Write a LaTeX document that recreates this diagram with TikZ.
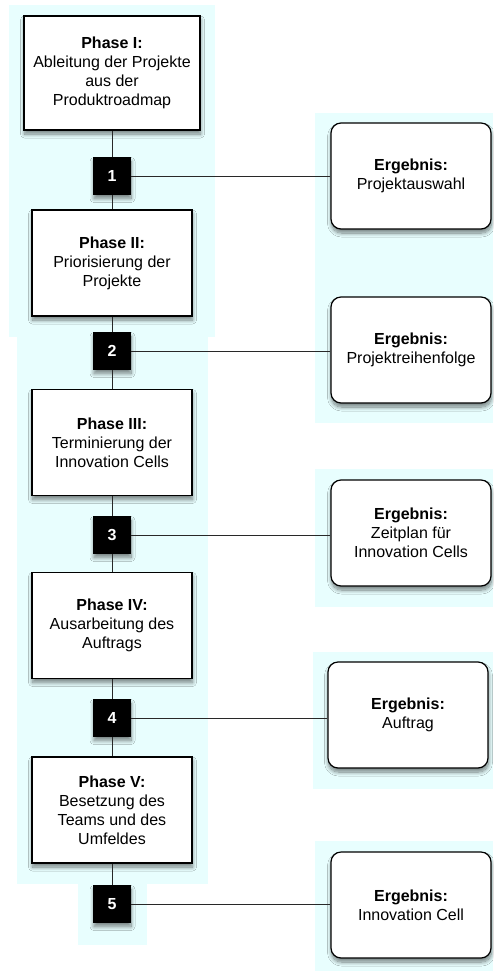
\documentclass[tikz,border=0pt]{standalone}
\usepackage{fontspec}
\setmainfont{Liberation Sans}
\usetikzlibrary{shadows.blur}

\definecolor{bgcyan}{RGB}{232,254,254}
\definecolor{linegray}{RGB}{40,40,40}

\tikzset{
  x=1pt, y=-1pt,
  softshadow/.style={blur shadow={shadow xshift=0.5pt, shadow yshift=-4pt,
      shadow blur radius=4pt, shadow blur steps=10, shadow opacity=50}},
  band/.style={fill=bgcyan, draw=none},
  phasebox/.style={draw=black, line width=1.2pt, fill=white, softshadow,
      minimum width=160pt, minimum height=106pt, inner sep=0pt,
      align=center, font=\fontsize{16}{19}\selectfont},
  numbox/.style={draw=black, fill=black, text=white, softshadow,
      minimum size=37pt, inner sep=0pt,
      font=\fontsize{16}{19}\selectfont\bfseries},
  resultbox/.style={draw=black, line width=1.2pt, fill=white, softshadow,
      rounded corners=10pt, minimum width=160pt, minimum height=106pt,
      inner sep=0pt, align=center, font=\fontsize{16}{19}\selectfont},
  link/.style={draw=linegray, line width=1pt},
}

\begin{document}
\begin{tikzpicture}
  \useasboundingbox (0,0) rectangle (493,971);

  % light background bands
  \path[band] (9,5) rectangle (215,337);
  \path[band] (17,337) rectangle (208,884);
  \path[band] (78,884) rectangle (147,945);
  \path[band] (315,113) rectangle (493,423);
  \path[band] (315,469) rectangle (493,607);
  \path[band] (313,652) rectangle (493,789);
  \path[band] (315,841) rectangle (493,971);

  % phases
  \node[phasebox, minimum width=176pt, minimum height=114pt] (p1) at (112,73)
    {\textbf{Phase I:}\\Ableitung der Projekte\\aus der\\Produktroadmap};
  \node[phasebox] (p2) at (112,263)
    {\textbf{Phase II:}\\Priorisierung der\\Projekte};
  \node[phasebox] (p3) at (112,442.5)
    {\textbf{Phase III:}\\Terminierung der\\Innovation Cells};
  \node[phasebox] (p4) at (112,625.5)
    {\textbf{Phase IV:}\\Ausarbeitung des\\Auftrags};
  \node[phasebox] (p5) at (112,810)
    {\textbf{Phase V:}\\Besetzung des\\Teams und des\\Umfeldes};

  % milestones
  \node[numbox] (n1) at (112,176) {1};
  \node[numbox] (n2) at (112,351) {2};
  \node[numbox] (n3) at (112,535) {3};
  \node[numbox] (n4) at (112,718) {4};
  \node[numbox] (n5) at (112,904) {5};

  % results
  \node[resultbox] (e1) at (411,176) {\textbf{Ergebnis:}\\Projektauswahl};
  \node[resultbox] (e2) at (411,350) {\textbf{Ergebnis:}\\Projektreihenfolge};
  \node[resultbox] (e3) at (411,533) {\textbf{Ergebnis:}\\Zeitplan für\\Innovation Cells};
  \node[resultbox] (e4) at (408,715) {\textbf{Ergebnis:}\\Auftrag};
  \node[resultbox] (e5) at (411,905) {\textbf{Ergebnis:}\\Innovation Cell};

  % vertical chain
  \draw[link] (p1.south) -- (n1.north);
  \draw[link] (n1.south) -- (p2.north);
  \draw[link] (p2.south) -- (n2.north);
  \draw[link] (n2.south) -- (p3.north);
  \draw[link] (p3.south) -- (n3.north);
  \draw[link] (n3.south) -- (p4.north);
  \draw[link] (p4.south) -- (n4.north);
  \draw[link] (n4.south) -- (p5.north);
  \draw[link] (p5.south) -- (n5.north);

  % milestone to result
  \draw[link] (n1.east) -- (n1.east -| e1.west);
  \draw[link] (n2.east) -- (n2.east -| e2.west);
  \draw[link] (n3.east) -- (n3.east -| e3.west);
  \draw[link] (n4.east) -- (n4.east -| e4.west);
  \draw[link] (n5.east) -- (n5.east -| e5.west);
\end{tikzpicture}
\end{document}
